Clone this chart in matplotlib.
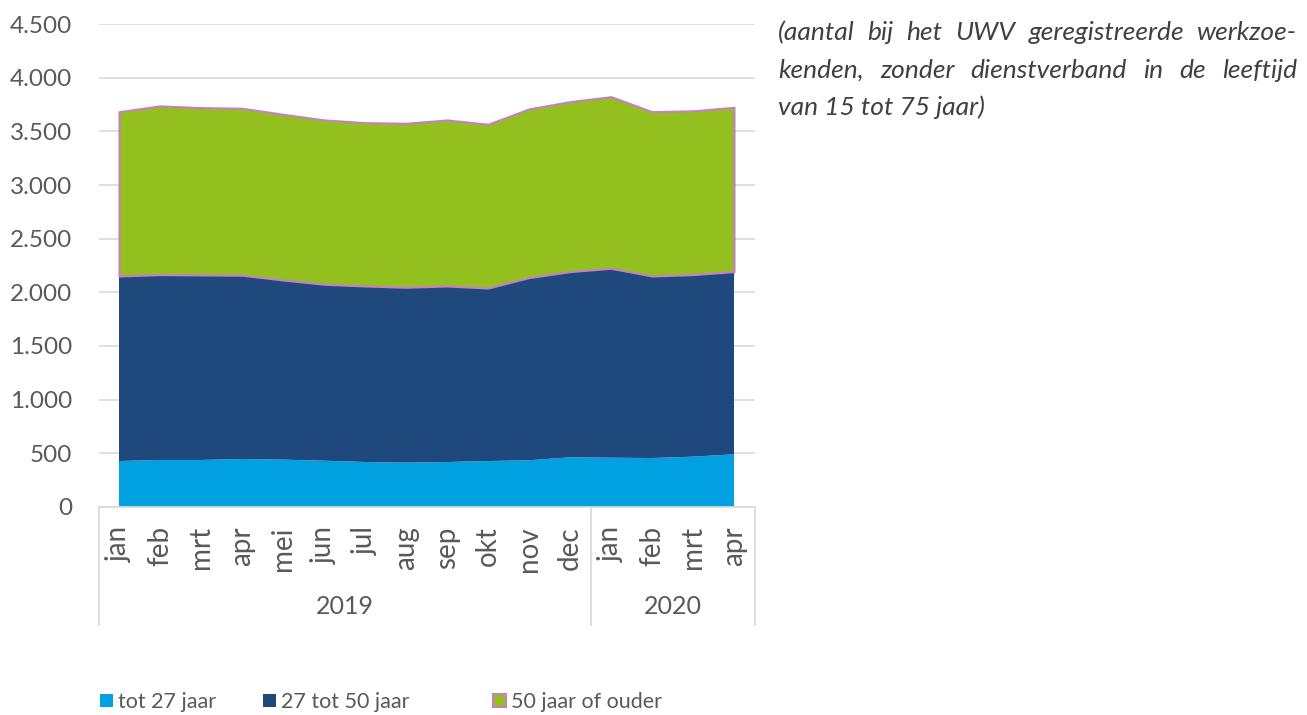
import matplotlib
matplotlib.use("Agg")
import matplotlib.pyplot as plt
from matplotlib.patches import Patch
from matplotlib.transforms import blended_transform_factory

# Werkzoekenden naar leeftijd, per maand
months = ['jan', 'feb', 'mrt', 'apr', 'mei', 'jun', 'jul', 'aug', 'sep', 'okt', 'nov', 'dec',
          'jan', 'feb', 'mrt', 'apr']
years = ['2019', '2020']
year_counts = [12, 4]

tot_27 = [426, 436, 436, 445, 439, 429, 417, 411, 417, 426, 433, 461, 457, 454, 467, 489]
tot_50 = [1726, 1729, 1726, 1714, 1676, 1646, 1642, 1636, 1642, 1614, 1704, 1732, 1767, 1698, 1698, 1704]
ouder_50 = [1533, 1574, 1561, 1558, 1546, 1533, 1524, 1530, 1549, 1528, 1574, 1586, 1601, 1533, 1528, 1533]

series_labels = ['tot 27 jaar', '27 tot 50 jaar', '50 jaar of ouder']
colors = ['#00a0e1', '#1f497d', '#93c01f']
edge = '#c77fc4'

note_lines = ['(aantal bij het UWV geregistreerde werkzoe-',
              'kenden, zonder dienstverband in de leeftijd',
              'van 15 tot 75 jaar)']

W, H = 1307, 715
grey = '#595959'
light = '#d9d9d9'

plt.rcParams['font.family'] = ['Lato', 'DejaVu Sans']

fig = plt.figure(figsize=(W / 100, H / 100), dpi=100)
ax = fig.add_axes([98.5 / W, 1 - 506.7 / H, 656 / W, 482.4 / H])

x = list(range(len(months)))
polys = ax.stackplot(x, tot_27, tot_50, ouder_50, colors=colors, linewidth=0)
polys[2].set_edgecolor(edge)
polys[2].set_linewidth(1.5)

ax.set_xlim(-0.5, len(months) - 0.5)
ax.set_ylim(0, 4500)
yt = list(range(0, 4501, 500))
ax.set_yticks(yt, [f'{v:,}'.replace(',', '.') for v in yt])
ax.yaxis.grid(True, color=light, lw=1.2)
ax.set_axisbelow(True)
for s in ['top', 'right', 'left']:
    ax.spines[s].set_visible(False)
ax.spines['bottom'].set_color(light)
ax.spines['bottom'].set_linewidth(1.2)

ax.set_xticks(x, months, rotation=90)
ax.tick_params(axis='x', length=0, pad=14, labelsize=20, colors=grey)
ax.tick_params(axis='y', length=0, pad=19, labelsize=17.5, colors=grey)

# tweede niveau van de as: jaren in vakken
trans = blended_transform_factory(ax.transData, ax.transAxes)
box_bottom = -(625 - 506.7) / 482.4
start = -0.5
edges = [start]
for yr, n in zip(years, year_counts):
    ax.text(start + n / 2, -(606 - 506.7) / 482.4, yr, transform=trans,
            ha='center', va='center', fontsize=18, color=grey)
    start += n
    edges.append(start)
for e in edges:
    ax.plot([e, e], [0, box_bottom], transform=trans, color=light, lw=1.2, clip_on=False)

handles = [Patch(facecolor=colors[0]), Patch(facecolor=colors[1]),
           Patch(facecolor=colors[2], edgecolor=edge, linewidth=1.5)]
legend_x = [100, 263, 493]
for h, lab, lx in zip(handles, series_labels, legend_x):
    fig.legend([h], [lab], loc='center left', bbox_to_anchor=(lx / W, 1 - 702 / H),
               frameon=False, fontsize=15.5, handlelength=0.6, handleheight=0.6,
               handletextpad=0.25, labelcolor=grey, borderaxespad=0, borderpad=0)

# toelichting rechts, uitgevuld
fig.canvas.draw()
r = fig.canvas.get_renderer()
x0, x1 = 778 / W, 1297 / W
for i, line in enumerate(note_lines):
    y = 1 - (33 + 37 * i) / H
    kw = dict(fontsize=19, style='italic', color='#404040', va='center', ha='left')
    if i == len(note_lines) - 1:
        fig.text(x0, y, line, **kw)
        continue
    words = line.split()
    ts = [fig.text(0, y, w, **kw) for w in words]
    widths = [t.get_window_extent(r).width / W for t in ts]
    gap = (x1 - x0 - sum(widths)) / (len(words) - 1)
    pos = x0
    for t, w in zip(ts, widths):
        t.set_x(pos)
        pos += w + gap

fig.savefig('out.png', dpi=100)
